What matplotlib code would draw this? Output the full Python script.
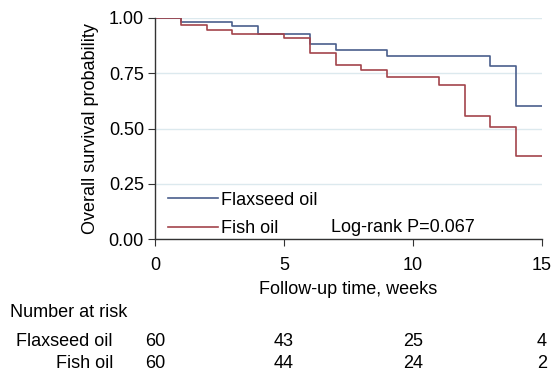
import matplotlib
matplotlib.use("Agg")
import matplotlib.pyplot as plt

plt.rcParams['font.family'] = ['Liberation Sans', 'DejaVu Sans']

# step times (weeks) and survival estimates
flax_t = [0, 1, 3, 4, 6, 7, 9, 13, 14, 15]
flax_s = [1.00, 0.983, 0.965, 0.926, 0.881, 0.855, 0.827, 0.784, 0.603, 0.603]
fish_t = [0, 1, 2, 3, 5, 6, 7, 8, 9, 11, 12, 13, 14, 15]
fish_s = [1.00, 0.968, 0.947, 0.929, 0.908, 0.840, 0.789, 0.763, 0.733, 0.697,
          0.558, 0.507, 0.376, 0.376]

risk_times = [0, 5, 10, 15]
flax_risk = [60, 43, 25, 4]
fish_risk = [60, 44, 24, 2]

blue = "#4a5f8c"
red = "#a3444c"
grid_col = "#dce9ee"
fs = 13

fig = plt.figure(figsize=(5.53, 3.71), dpi=100)
W, H = 553, 371
ax = fig.add_axes([155 / W, 1 - 239 / H, 387 / W, 221 / H])

ax.step(flax_t, flax_s, where="post", color=blue, lw=1.2, label="Flaxseed oil")
ax.step(fish_t, fish_s, where="post", color=red, lw=1.2, label="Fish oil")

ax.set_xlim(0, 15)
ax.set_ylim(0, 1.0)
ax.set_xticks([0, 5, 10, 15])
ax.set_yticks([0, 0.25, 0.5, 0.75, 1.0])
ax.set_yticklabels(["0.00", "0.25", "0.50", "0.75", "1.00"])
ax.yaxis.grid(True, color=grid_col, lw=1)
ax.set_axisbelow(True)
for s in ["top", "right"]:
    ax.spines[s].set_visible(False)
for s in ["left", "bottom"]:
    ax.spines[s].set_color("#333333")
    ax.spines[s].set_linewidth(1)
ax.tick_params(axis="both", labelsize=fs, length=5, color="#333333")
ax.tick_params(axis="x", pad=8)
ax.tick_params(axis="y", pad=3)
ax.set_xlabel("Follow-up time, weeks", fontsize=fs, labelpad=5)
ax.set_ylabel("Overall survival probability", fontsize=fs, labelpad=7)

leg = ax.legend(loc="lower left", bbox_to_anchor=(0.0, -0.048), frameon=False,
                fontsize=fs, handlelength=2.8, handletextpad=0.15,
                labelspacing=0.62, borderaxespad=0.3)
ax.text(0.455, 0.032, "Log-rank P=0.067", transform=ax.transAxes,
        fontsize=fs, ha="left", va="baseline")

# number at risk table
fig.text(10 / W, 1 - 317 / H, "Number at risk", fontsize=fs, va="baseline")
rows = [("Flaxseed oil", flax_risk, 346), ("Fish oil", fish_risk, 368)]
for name, vals, py in rows:
    yf = 1 - py / H
    fig.text(113 / W, yf, name, fontsize=fs, ha="right", va="baseline")
    for t, v in zip(risk_times, vals):
        xd = ax.transData.transform((t, 0))[0]
        fig.text(xd / fig.bbox.width, yf, str(v), fontsize=fs,
                 ha="center", va="baseline")

fig.savefig("out.png", dpi=100)
